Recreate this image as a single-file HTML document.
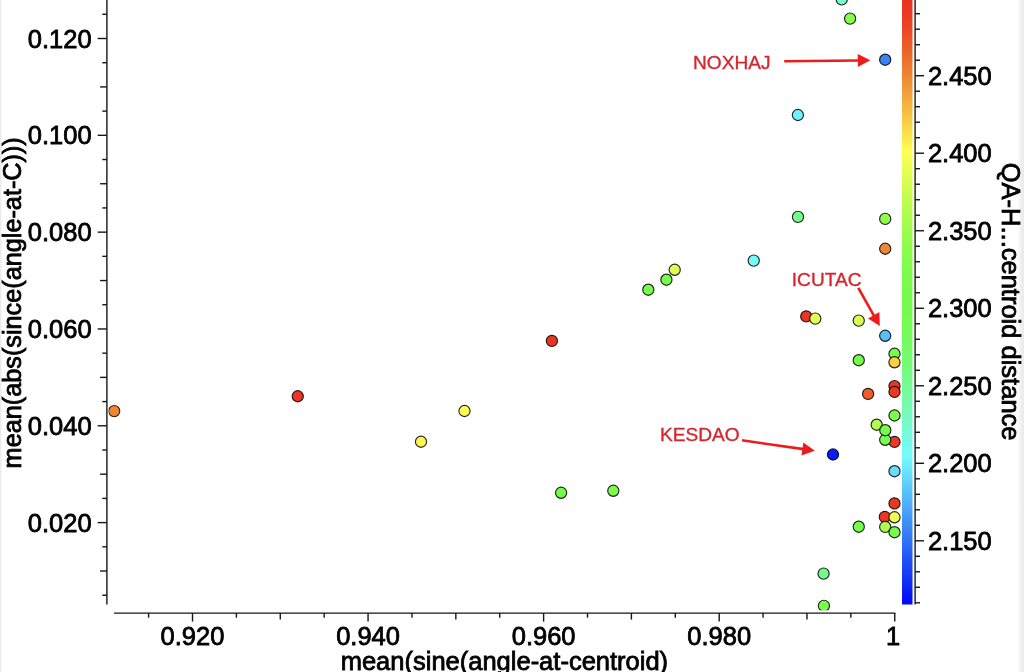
<!DOCTYPE html>
<html lang="en"><head><meta charset="utf-8"><title>Scatter plot</title>
<style>html,body{margin:0;padding:0;background:#fff;overflow:hidden}svg{display:block}text{font-family:"Liberation Sans", Arial, Helvetica, sans-serif;fill:#000;stroke:#000;stroke-width:0.8px;paint-order:stroke fill}</style></head><body>
<svg width="1024" height="672" viewBox="0 0 1024 672">
<defs>
<linearGradient id="cb" gradientUnits="userSpaceOnUse" x1="0" y1="-0.5" x2="0" y2="609.5">
<stop offset="0.0000" stop-color="#ea3323"/>
<stop offset="0.0250" stop-color="#ea3a24"/>
<stop offset="0.0500" stop-color="#eb4826"/>
<stop offset="0.0750" stop-color="#ec5b29"/>
<stop offset="0.1000" stop-color="#ed702d"/>
<stop offset="0.1250" stop-color="#ef8633"/>
<stop offset="0.1500" stop-color="#f19e38"/>
<stop offset="0.1750" stop-color="#f4b63f"/>
<stop offset="0.2000" stop-color="#f7ce46"/>
<stop offset="0.2250" stop-color="#fbe64d"/>
<stop offset="0.2500" stop-color="#ffff54"/>
<stop offset="0.2750" stop-color="#eafe53"/>
<stop offset="0.3000" stop-color="#d6fe51"/>
<stop offset="0.3250" stop-color="#c3fd50"/>
<stop offset="0.3500" stop-color="#b1fc4f"/>
<stop offset="0.3750" stop-color="#a0fc4e"/>
<stop offset="0.4000" stop-color="#92fc4d"/>
<stop offset="0.4250" stop-color="#86fc4d"/>
<stop offset="0.4500" stop-color="#7dfb4c"/>
<stop offset="0.4750" stop-color="#77fb4c"/>
<stop offset="0.5000" stop-color="#75fb4c"/>
<stop offset="0.5250" stop-color="#75fb51"/>
<stop offset="0.5500" stop-color="#75fb5a"/>
<stop offset="0.5750" stop-color="#75fb68"/>
<stop offset="0.6000" stop-color="#75fb7a"/>
<stop offset="0.6250" stop-color="#75fb8d"/>
<stop offset="0.6500" stop-color="#75fba2"/>
<stop offset="0.6750" stop-color="#75fbb8"/>
<stop offset="0.7000" stop-color="#75fbcf"/>
<stop offset="0.7250" stop-color="#75fbe6"/>
<stop offset="0.7500" stop-color="#75fbfd"/>
<stop offset="0.7750" stop-color="#68e2fb"/>
<stop offset="0.8000" stop-color="#5cc9fa"/>
<stop offset="0.8250" stop-color="#50b0f9"/>
<stop offset="0.8500" stop-color="#4397f7"/>
<stop offset="0.8750" stop-color="#377ef7"/>
<stop offset="0.9000" stop-color="#2a64f6"/>
<stop offset="0.9250" stop-color="#1e4bf5"/>
<stop offset="0.9500" stop-color="#1232f5"/>
<stop offset="0.9750" stop-color="#0619f5"/>
<stop offset="1.0000" stop-color="#0000f5"/>
</linearGradient>
<linearGradient id="lb" x1="0" y1="0" x2="1" y2="0"><stop offset="0" stop-color="#e6e6e6"/><stop offset="0.5" stop-color="#f4f4f4"/><stop offset="1" stop-color="#ffffff"/></linearGradient>
<linearGradient id="rb" x1="0" y1="0" x2="1" y2="0"><stop offset="0" stop-color="#ffffff"/><stop offset="0.45" stop-color="#f2f2f2"/><stop offset="0.7" stop-color="#ececec"/><stop offset="1" stop-color="#ececec"/></linearGradient>
<clipPath id="pc"><rect x="108.5" y="-10" width="800" height="620.3"/></clipPath>
</defs>
<rect x="0" y="0" width="1024" height="672" fill="#ffffff"/>
<rect x="0" y="0" width="2.5" height="672" fill="url(#lb)"/>
<rect x="1017.6" y="0" width="6.4" height="672" fill="url(#rb)"/>
<rect x="902" y="-1.50" width="10.5" height="606.00" fill="url(#cb)"/>
<g stroke="#161616" stroke-width="1.4" fill="none">
<line x1="915.1" y1="-2" x2="915.1" y2="604.5"/>
<line x1="915.1" y1="602.81" x2="920" y2="602.81"/>
<line x1="915.1" y1="587.31" x2="920" y2="587.31"/>
<line x1="915.1" y1="571.81" x2="920" y2="571.81"/>
<line x1="915.1" y1="556.30" x2="920" y2="556.30"/>
<line x1="915.1" y1="540.80" x2="924" y2="540.80"/>
<line x1="915.1" y1="525.30" x2="920" y2="525.30"/>
<line x1="915.1" y1="509.79" x2="920" y2="509.79"/>
<line x1="915.1" y1="494.29" x2="920" y2="494.29"/>
<line x1="915.1" y1="478.79" x2="920" y2="478.79"/>
<line x1="915.1" y1="463.28" x2="924" y2="463.28"/>
<line x1="915.1" y1="447.78" x2="920" y2="447.78"/>
<line x1="915.1" y1="432.28" x2="920" y2="432.28"/>
<line x1="915.1" y1="416.78" x2="920" y2="416.78"/>
<line x1="915.1" y1="401.27" x2="920" y2="401.27"/>
<line x1="915.1" y1="385.77" x2="924" y2="385.77"/>
<line x1="915.1" y1="370.27" x2="920" y2="370.27"/>
<line x1="915.1" y1="354.76" x2="920" y2="354.76"/>
<line x1="915.1" y1="339.26" x2="920" y2="339.26"/>
<line x1="915.1" y1="323.76" x2="920" y2="323.76"/>
<line x1="915.1" y1="308.26" x2="924" y2="308.26"/>
<line x1="915.1" y1="292.75" x2="920" y2="292.75"/>
<line x1="915.1" y1="277.25" x2="920" y2="277.25"/>
<line x1="915.1" y1="261.75" x2="920" y2="261.75"/>
<line x1="915.1" y1="246.24" x2="920" y2="246.24"/>
<line x1="915.1" y1="230.74" x2="924" y2="230.74"/>
<line x1="915.1" y1="215.24" x2="920" y2="215.24"/>
<line x1="915.1" y1="199.73" x2="920" y2="199.73"/>
<line x1="915.1" y1="184.23" x2="920" y2="184.23"/>
<line x1="915.1" y1="168.73" x2="920" y2="168.73"/>
<line x1="915.1" y1="153.22" x2="924" y2="153.22"/>
<line x1="915.1" y1="137.72" x2="920" y2="137.72"/>
<line x1="915.1" y1="122.22" x2="920" y2="122.22"/>
<line x1="915.1" y1="106.72" x2="920" y2="106.72"/>
<line x1="915.1" y1="91.21" x2="920" y2="91.21"/>
<line x1="915.1" y1="75.71" x2="924" y2="75.71"/>
<line x1="915.1" y1="60.21" x2="920" y2="60.21"/>
<line x1="915.1" y1="44.70" x2="920" y2="44.70"/>
<line x1="915.1" y1="29.20" x2="920" y2="29.20"/>
<line x1="915.1" y1="13.70" x2="920" y2="13.70"/>
<line x1="915.1" y1="-1.81" x2="924" y2="-1.81"/>
</g>
<text x="927.9" y="549.90" font-size="25.5">2.150</text>
<text x="927.9" y="472.38" font-size="25.5">2.200</text>
<text x="927.9" y="394.87" font-size="25.5">2.250</text>
<text x="927.9" y="317.36" font-size="25.5">2.300</text>
<text x="927.9" y="239.84" font-size="25.5">2.350</text>
<text x="927.9" y="162.32" font-size="25.5">2.400</text>
<text x="927.9" y="84.81" font-size="25.5">2.450</text>
<g stroke="#161616" stroke-width="1.4" fill="none">
<line x1="106.9" y1="-2" x2="106.9" y2="604.5"/>
<line x1="114" y1="613.1" x2="895.4" y2="613.1"/>
<line x1="102.30" y1="595.22" x2="106.9" y2="595.22"/>
<line x1="100.10" y1="571.01" x2="106.9" y2="571.01"/>
<line x1="102.30" y1="546.81" x2="106.9" y2="546.81"/>
<line x1="97.70" y1="522.60" x2="106.9" y2="522.60"/>
<line x1="102.30" y1="498.40" x2="106.9" y2="498.40"/>
<line x1="100.10" y1="474.19" x2="106.9" y2="474.19"/>
<line x1="102.30" y1="449.99" x2="106.9" y2="449.99"/>
<line x1="97.70" y1="425.78" x2="106.9" y2="425.78"/>
<line x1="102.30" y1="401.58" x2="106.9" y2="401.58"/>
<line x1="100.10" y1="377.37" x2="106.9" y2="377.37"/>
<line x1="102.30" y1="353.17" x2="106.9" y2="353.17"/>
<line x1="97.70" y1="328.96" x2="106.9" y2="328.96"/>
<line x1="102.30" y1="304.75" x2="106.9" y2="304.75"/>
<line x1="100.10" y1="280.55" x2="106.9" y2="280.55"/>
<line x1="102.30" y1="256.35" x2="106.9" y2="256.35"/>
<line x1="97.70" y1="232.14" x2="106.9" y2="232.14"/>
<line x1="102.30" y1="207.94" x2="106.9" y2="207.94"/>
<line x1="100.10" y1="183.73" x2="106.9" y2="183.73"/>
<line x1="102.30" y1="159.53" x2="106.9" y2="159.53"/>
<line x1="97.70" y1="135.32" x2="106.9" y2="135.32"/>
<line x1="102.30" y1="111.12" x2="106.9" y2="111.12"/>
<line x1="100.10" y1="86.91" x2="106.9" y2="86.91"/>
<line x1="102.30" y1="62.71" x2="106.9" y2="62.71"/>
<line x1="97.70" y1="38.50" x2="106.9" y2="38.50"/>
<line x1="102.30" y1="14.30" x2="106.9" y2="14.30"/>
<line x1="148.61" y1="613.1" x2="148.61" y2="617.70"/>
<line x1="192.50" y1="613.1" x2="192.50" y2="621.60"/>
<line x1="236.39" y1="613.1" x2="236.39" y2="617.70"/>
<line x1="280.28" y1="613.1" x2="280.28" y2="619.60"/>
<line x1="324.17" y1="613.1" x2="324.17" y2="617.70"/>
<line x1="368.06" y1="613.1" x2="368.06" y2="621.60"/>
<line x1="411.95" y1="613.1" x2="411.95" y2="617.70"/>
<line x1="455.84" y1="613.1" x2="455.84" y2="619.60"/>
<line x1="499.73" y1="613.1" x2="499.73" y2="617.70"/>
<line x1="543.62" y1="613.1" x2="543.62" y2="621.60"/>
<line x1="587.51" y1="613.1" x2="587.51" y2="617.70"/>
<line x1="631.40" y1="613.1" x2="631.40" y2="619.60"/>
<line x1="675.29" y1="613.1" x2="675.29" y2="617.70"/>
<line x1="719.18" y1="613.1" x2="719.18" y2="621.60"/>
<line x1="763.07" y1="613.1" x2="763.07" y2="617.70"/>
<line x1="806.96" y1="613.1" x2="806.96" y2="619.60"/>
<line x1="850.85" y1="613.1" x2="850.85" y2="617.70"/>
<line x1="894.74" y1="613.1" x2="894.74" y2="621.60"/>
</g>
<text x="91.6" y="531.70" font-size="25.5" text-anchor="end">0.020</text>
<text x="91.6" y="434.88" font-size="25.5" text-anchor="end">0.040</text>
<text x="91.6" y="338.06" font-size="25.5" text-anchor="end">0.060</text>
<text x="91.6" y="241.24" font-size="25.5" text-anchor="end">0.080</text>
<text x="91.6" y="144.42" font-size="25.5" text-anchor="end">0.100</text>
<text x="91.6" y="47.60" font-size="25.5" text-anchor="end">0.120</text>
<text x="192.50" y="645.0" font-size="25.5" text-anchor="middle">0.920</text>
<text x="368.06" y="645.0" font-size="25.5" text-anchor="middle">0.940</text>
<text x="543.62" y="645.0" font-size="25.5" text-anchor="middle">0.960</text>
<text x="719.18" y="645.0" font-size="25.5" text-anchor="middle">0.980</text>
<text x="893.14" y="645.0" font-size="25.5" text-anchor="middle">1</text>
<text x="504.4" y="670.0" font-size="25.5" text-anchor="middle">mean(sine(angle-at-centroid)</text>
<text transform="translate(21,468.4) rotate(-90)" font-size="25.25">mean(abs(since(angle-at-C)))</text>
<text transform="translate(1001.5,301.6) rotate(90)" font-size="25.5" text-anchor="middle">QA-H...centroid distance</text>
<g clip-path="url(#pc)" stroke="#000000" stroke-opacity="0.85" stroke-width="1.15">
<circle cx="841.75" cy="-0.60" r="5.6" fill="#75fbcf"/>
<circle cx="850.10" cy="18.60" r="5.6" fill="#88fc4d"/>
<circle cx="885.20" cy="59.70" r="5.6" fill="#3983f7"/>
<circle cx="797.90" cy="115.00" r="5.6" fill="#70f1fc"/>
<circle cx="798.00" cy="216.90" r="5.6" fill="#75fb89"/>
<circle cx="885.20" cy="218.90" r="5.6" fill="#92fc4d"/>
<circle cx="885.20" cy="248.75" r="5.6" fill="#ef8633"/>
<circle cx="753.75" cy="260.60" r="5.6" fill="#75fbf4"/>
<circle cx="674.70" cy="269.80" r="5.6" fill="#defe52"/>
<circle cx="666.40" cy="279.70" r="5.6" fill="#77fb4c"/>
<circle cx="648.30" cy="289.70" r="5.6" fill="#77fb4c"/>
<circle cx="806.25" cy="316.40" r="5.6" fill="#ea3524"/>
<circle cx="815.30" cy="318.60" r="5.6" fill="#e6fe52"/>
<circle cx="858.75" cy="320.60" r="5.6" fill="#d6fe51"/>
<circle cx="885.20" cy="335.80" r="5.6" fill="#57bff9"/>
<circle cx="551.90" cy="340.90" r="5.6" fill="#ea3524"/>
<circle cx="858.75" cy="360.20" r="5.6" fill="#75fb4c"/>
<circle cx="894.50" cy="353.75" r="5.6" fill="#77fb4c"/>
<circle cx="894.50" cy="362.30" r="5.6" fill="#f7ce46"/>
<circle cx="868.10" cy="393.90" r="5.6" fill="#ec5f2a"/>
<circle cx="894.50" cy="386.10" r="5.6" fill="#ea3524"/>
<circle cx="894.50" cy="391.90" r="5.6" fill="#ea3824"/>
<circle cx="894.50" cy="415.50" r="5.6" fill="#7dfb4c"/>
<circle cx="894.50" cy="441.90" r="5.6" fill="#ea3824"/>
<circle cx="876.70" cy="424.70" r="5.6" fill="#b1fc4f"/>
<circle cx="885.20" cy="439.80" r="5.6" fill="#77fb4c"/>
<circle cx="885.30" cy="430.20" r="5.6" fill="#77fb4c"/>
<circle cx="833.00" cy="454.50" r="5.6" fill="#081ef5"/>
<circle cx="894.50" cy="471.20" r="5.6" fill="#66ddfb"/>
<circle cx="114.20" cy="411.10" r="5.6" fill="#ef8633"/>
<circle cx="297.75" cy="396.25" r="5.6" fill="#ea3524"/>
<circle cx="464.50" cy="411.00" r="5.6" fill="#ffff54"/>
<circle cx="421.00" cy="441.75" r="5.6" fill="#fdf551"/>
<circle cx="561.10" cy="492.80" r="5.6" fill="#77fb4c"/>
<circle cx="613.30" cy="490.80" r="5.6" fill="#7dfb4c"/>
<circle cx="894.50" cy="503.40" r="5.6" fill="#ea3524"/>
<circle cx="884.80" cy="516.90" r="5.6" fill="#ea3524"/>
<circle cx="894.50" cy="517.30" r="5.6" fill="#eefe53"/>
<circle cx="858.75" cy="526.70" r="5.6" fill="#77fb4c"/>
<circle cx="885.20" cy="526.90" r="5.6" fill="#aafc4e"/>
<circle cx="894.50" cy="532.20" r="5.6" fill="#78fb4c"/>
<circle cx="823.60" cy="573.60" r="5.6" fill="#75fb89"/>
<circle cx="823.90" cy="605.80" r="5.6" fill="#7afb4c"/>
</g>
<line x1="784.20" y1="61.30" x2="858.80" y2="60.43" stroke="#ec1c1c" stroke-width="2.6"/>
<polygon points="870.30,60.30 857.88,66.94 857.73,53.95" fill="#ec1c1c"/>
<line x1="858.30" y1="287.80" x2="874.17" y2="316.07" stroke="#ec1c1c" stroke-width="2.6"/>
<polygon points="879.80,326.10 868.01,318.38 879.35,312.02" fill="#ec1c1c"/>
<line x1="741.90" y1="440.30" x2="803.42" y2="449.16" stroke="#ec1c1c" stroke-width="2.6"/>
<polygon points="814.80,450.80 801.50,455.45 803.35,442.58" fill="#ec1c1c"/>
<text x="693.0" y="69.4" font-size="19.1" style="fill:#d5252e;stroke:#d5252e;stroke-width:0.35px">NOXHAJ</text>
<text x="791.8" y="285.6" font-size="19.1" style="fill:#d5252e;stroke:#d5252e;stroke-width:0.35px">ICUTAC</text>
<text x="660.0" y="441.1" font-size="19.1" style="fill:#d5252e;stroke:#d5252e;stroke-width:0.35px">KESDAO</text>
</svg></body></html>
